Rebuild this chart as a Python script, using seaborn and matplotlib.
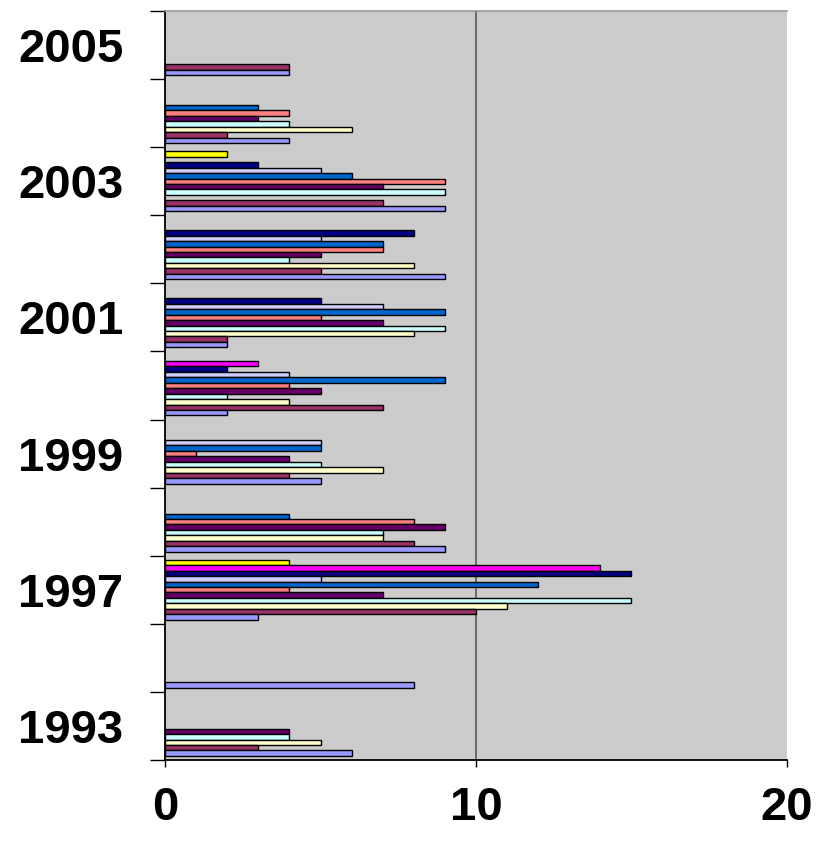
import numpy as np
import pandas as pd
import matplotlib
matplotlib.use("Agg")
import matplotlib.pyplot as plt
import seaborn as sns

nan = np.nan

# Years on the category axis, bottom to top
years = ["1993", "1995", "1997", "1998", "1999", "2000",
         "2001", "2002", "2003", "2004", "2005"]

# One list per series, values per year (nan = no bar)
s1 = [6, 8, 3, 9, 5, 2, 2, 9, 9, 4, 4]
s2 = [3, nan, 10, 8, 4, 7, 2, 5, 7, 2, 4]
s3 = [5, nan, 11, 7, 7, 4, 8, 8, nan, 6, nan]
s4 = [4, nan, 15, 7, 5, 2, 9, 4, 9, 4, nan]
s5 = [4, nan, 7, 9, 4, 5, 7, 5, 7, 3, nan]
s6 = [nan, nan, 4, 8, 1, 4, 5, 7, 9, 4, nan]
s7 = [nan, nan, 12, 4, 5, 9, 9, 7, 6, 3, nan]
s8 = [nan, nan, 5, nan, 5, 4, 7, 5, 5, nan, nan]
s9 = [nan, nan, 15, nan, nan, 2, 5, 8, 3, nan, nan]
s10 = [nan, nan, 14, nan, nan, 3, nan, nan, nan, nan, nan]
s11 = [nan, nan, 4, nan, nan, nan, nan, nan, 2, nan, nan]

series_names = ["S1", "S2", "S3", "S4", "S5", "S6", "S7", "S8", "S9", "S10", "S11"]
series_values = [s1, s2, s3, s4, s5, s6, s7, s8, s9, s10, s11]
series_colors = ["#9999FF", "#993366", "#FFFFCC", "#CCFFFF", "#660066", "#FF8080",
                 "#0066CC", "#CCCCFF", "#000080", "#FF00FF", "#FFFF00"]

x_ticks = [0, 10, 20]

rows = []
for name, vals in zip(series_names, series_values):
    for yr, v in zip(years, vals):
        rows.append({"year": yr, "series": name, "value": v})
df = pd.DataFrame(rows).dropna()

sns.set_theme(style="white")
plt.rcParams["font.family"] = ["Liberation Sans", "DejaVu Sans"]
plt.rcParams["text.color"] = "black"
plt.rcParams["xtick.color"] = "black"
plt.rcParams["ytick.color"] = "black"
plt.rcParams["xtick.labelcolor"] = "black"
plt.rcParams["ytick.labelcolor"] = "black"

fig = plt.figure(figsize=(8.16, 8.56), dpi=100)
ax = fig.add_axes([165 / 816, (856 - 760) / 856, (787 - 165) / 816, (760 - 11) / 856])
ax.set_facecolor("#CCCCCC")

order = years[::-1]                 # top category first
hue_order = series_names[::-1]      # first series drawn at the bottom of each group
palette = dict(zip(series_names, series_colors))

sns.barplot(data=df, y="year", x="value", hue="series", order=order,
            hue_order=hue_order, palette=palette, orient="h", width=0.88,
            dodge=True, gap=0, errorbar=None, saturation=1, legend=False,
            edgecolor="black", linewidth=1.0, ax=ax)

ax.axvline(10, color="#505050", lw=1.1, zorder=0.5)

n = len(order)
ax.set_ylim(n - 0.5, -0.5)
ax.set_xlim(0, 20)

# boundary tick marks between categories, labels on every other category
ax.set_yticks(np.arange(n + 1) - 0.5)
ax.set_yticklabels([])
ax.set_yticks(np.arange(n), minor=True)
ax.set_yticklabels([y if i % 2 == 0 else "" for i, y in enumerate(order)], minor=True)
ax.tick_params(axis="y", which="major", direction="out", length=11, width=1,
               color="black", left=True)
ax.tick_params(axis="y", which="minor", length=0, pad=30, labelsize=34,
               labelcolor="black")
for t in ax.get_yticklabels(minor=True):
    t.set_fontweight("bold")

ax.set_xticks(x_ticks)
ax.set_xticklabels([str(v) for v in x_ticks])
ax.tick_params(axis="x", which="major", direction="out", length=5, width=1,
               color="black", bottom=True, pad=14, labelsize=34, labelcolor="black")
for t in ax.get_xticklabels():
    t.set_fontweight("bold")

ax.set_xlabel("")
ax.set_ylabel("")

for side in ["left", "bottom"]:
    ax.spines[side].set_color("black")
    ax.spines[side].set_linewidth(1.3)
ax.spines["top"].set_color("#999999")
ax.spines["top"].set_linewidth(1.2)
ax.spines["right"].set_visible(False)

fig.savefig("out.png", dpi=100, facecolor="white")
